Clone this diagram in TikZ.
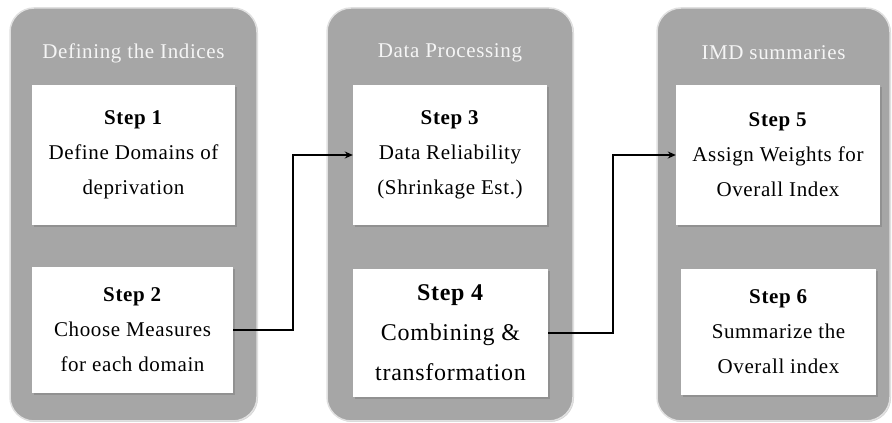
\documentclass[tikz,border=0pt]{standalone}
\usepackage{fontspec}
\setmainfont{Liberation Serif}[LetterSpace = 3]
\usetikzlibrary{shadows, arrows.meta}

\definecolor{panelgray}{RGB}{166,166,166}

\tikzset{panel/.style = {draw = white!88!black, line width = 1.5pt, fill = panelgray,
           rounded corners = 24pt, inner sep = 0pt,
           drop shadow = {shadow xshift = 1pt, shadow yshift = -1pt, opacity = .35}},
         stepbox/.style = {fill = white, inner sep = 0pt, align = center,
           font = \fontsize{21}{35}\selectfont,
           drop shadow = {shadow xshift = 2pt, shadow yshift = -2pt, opacity = .55}},
         heading/.style = {text = gray!8, font = \fontsize{21}{25}\selectfont},
         link/.style = {draw, line width = 2pt, -{Stealth[length = 8pt, width = 7pt]}}}

\begin{document}
\begin{tikzpicture}[x = 1pt, y = 1pt]
  \useasboundingbox (0,0) rectangle (892,423);

  % the three stages
  \node[panel, minimum width = 247pt, minimum height = 413pt] (stage1) at (133.5,208.5) {};
  \node[panel, minimum width = 246pt, minimum height = 413pt] (stage2) at (450,208.5) {};
  \node[panel, minimum width = 233pt, minimum height = 413pt] (stage3) at (773.5,208.5) {};

  \node[heading] (head1) at (133.5,370) {Defining the Indices};
  \node[heading] (head2) at (450,370) {Data Processing};
  \node[heading] (head3) at (773.5,370) {IMD summaries};

  % steps
  \node[stepbox, minimum width = 203pt, minimum height = 140pt] (step1) at (133.5,268)
    {\textbf{Step 1}\\Define Domains of\\deprivation};
  \node[stepbox, minimum width = 201pt, minimum height = 126pt] (step2) at (132.5,93)
    {\textbf{Step 2}\\Choose Measures\\for each domain};
  \node[stepbox, minimum width = 194pt, minimum height = 140pt] (step3) at (450,268)
    {\textbf{Step 3}\\Data Reliability\\(Shrinkage Est.)};
  \node[stepbox, minimum width = 195pt, minimum height = 128pt,
    font = \fontsize{24}{40}\selectfont] (step4) at (450.5,90)
    {\textbf{Step 4}\\Combining \&\\transformation};
  \node[stepbox, minimum width = 204pt, minimum height = 140pt] (step5) at (778,268)
    {\textbf{Step 5}\\Assign Weights for\\Overall Index};
  \node[stepbox, minimum width = 195pt, minimum height = 126pt] (step6) at (778.5,91)
    {\textbf{Step 6}\\Summarize the\\Overall index};

  % links between stages
  \draw[link] (step2.east) -- ++(60,0) |- (step3.west);
  \draw[link] (step4.east) -- ++(65,0) |- (step5.west);
\end{tikzpicture}
\end{document}
